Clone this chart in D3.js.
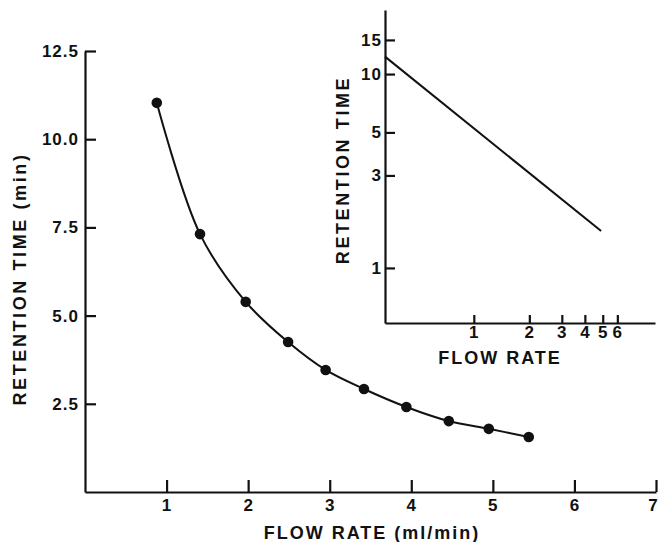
<!DOCTYPE html>
<html>
<head>
<meta charset="utf-8">
<script src="https://cdn.jsdelivr.net/npm/d3@7"></script>
<style>
  body { margin: 0; background: #fff; }
  svg { display: block; }
  .axis path, .axis line { stroke: #111; stroke-width: 2.2; }
  .axis text { font-family: 'Liberation Sans', Arial, sans-serif; font-weight: bold; font-size: 17px; fill: #111; letter-spacing: 1px; }
  .title { font-family: 'Liberation Sans', Arial, sans-serif; font-weight: bold; font-size: 18px; fill: #111; letter-spacing: 2px; }
</style>
</head>
<body>
<svg width="660" height="542"></svg>
<script>
// main plot: retention time vs flow rate
const flowRate = [0.88, 1.41, 1.97, 2.49, 2.95, 3.42, 3.94, 4.46, 4.95, 5.44];
const retentionTime = [11.03, 7.31, 5.39, 4.25, 3.46, 2.92, 2.41, 2.01, 1.79, 1.56];
const xTicks = [1, 2, 3, 4, 5, 6, 7];
const yTicks = [2.5, 5.0, 7.5, 10.0, 12.5];

// inset: log-log line
const insetFlow = [0.33, 4.9];
const insetTime = [12.3, 1.55];
const insetXTicks = [1, 2, 3, 4, 5, 6];
const insetYTicks = [1, 3, 5, 10, 15];

const svg = d3.select('svg');

const x = d3.scaleLinear().domain([0, 7]).range([85, 656]);
const y = d3.scaleLinear().domain([0, 12.5]).range([492, 51]);

const points = flowRate.map((f, i) => ({ f, t: retentionTime[i] }));

// x axis
const xAxisG = svg.append('g')
  .attr('class', 'axis')
  .attr('transform', `translate(0,${y(0)})`)
  .call(d3.axisBottom(x)
    .tickValues(xTicks)
    .tickFormat(d3.format('d'))
    .tickSizeInner(-12)
    .tickSizeOuter(0)
    .tickPadding(7));
// last label sits on the page edge
xAxisG.selectAll('.tick text').filter(d => d === 7).attr('dx', '-3');

// y axis
svg.append('g')
  .attr('class', 'axis')
  .attr('transform', `translate(${x(0)},0)`)
  .call(d3.axisLeft(y)
    .tickValues(yTicks)
    .tickFormat(d3.format('.1f'))
    .tickSizeInner(-11)
    .tickSizeOuter(0)
    .tickPadding(6));

svg.selectAll('.axis .domain').attr('fill', 'none');

const line = d3.line()
  .x(d => x(d.f))
  .y(d => y(d.t))
  .curve(d3.curveCatmullRom.alpha(0.5));

svg.append('path')
  .datum(points)
  .attr('d', line)
  .attr('fill', 'none')
  .attr('stroke', '#111')
  .attr('stroke-width', 2);

svg.selectAll('circle.pt').data(points)
  .enter().append('circle')
  .attr('class', 'pt')
  .attr('cx', d => x(d.f))
  .attr('cy', d => y(d.t))
  .attr('r', 5.3)
  .attr('fill', '#111');

svg.append('text')
  .attr('class', 'title')
  .attr('x', 372)
  .attr('y', 533)
  .attr('text-anchor', 'middle')
  .attr('dominant-baseline', 'central')
  .text('FLOW RATE (ml/min)');

svg.append('text')
  .attr('class', 'title')
  .attr('transform', 'translate(20,279) rotate(-90)')
  .attr('text-anchor', 'middle')
  .attr('dominant-baseline', 'central')
  .style('letter-spacing', '2.6px')
  .text('RETENTION TIME (min)');

// inset
const ix = d3.scaleLog().domain([0.33, 9.6]).range([385, 655]);
const iy = d3.scaleLog().domain([0.52, 21.4]).range([323, 10]);

svg.append('g')
  .attr('class', 'axis')
  .attr('transform', `translate(0,${iy.range()[0]})`)
  .call(d3.axisBottom(ix)
    .tickValues(insetXTicks)
    .tickFormat(d => d)
    .tickSizeInner(-8)
    .tickSizeOuter(0)
    .tickPadding(3));

svg.append('g')
  .attr('class', 'axis')
  .attr('transform', `translate(${ix.range()[0]},0)`)
  .call(d3.axisLeft(iy)
    .tickValues(insetYTicks)
    .tickFormat(d => d)
    .tickSizeInner(-10)
    .tickSizeOuter(0)
    .tickPadding(3));

svg.selectAll('.axis .domain').attr('fill', 'none');

const insetPts = insetFlow.map((f, i) => ({ f, t: insetTime[i] }));
svg.append('path')
  .datum(insetPts)
  .attr('d', d3.line().x(d => ix(d.f)).y(d => iy(d.t)))
  .attr('fill', 'none')
  .attr('stroke', '#111')
  .attr('stroke-width', 2);

svg.append('text')
  .attr('class', 'title')
  .attr('x', 500)
  .attr('y', 358)
  .attr('text-anchor', 'middle')
  .attr('dominant-baseline', 'central')
  .text('FLOW RATE');

svg.append('text')
  .attr('class', 'title')
  .attr('transform', 'translate(343,170) rotate(-90)')
  .attr('text-anchor', 'middle')
  .attr('dominant-baseline', 'central')
  .style('letter-spacing', '2.6px')
  .text('RETENTION TIME');
</script>
</body>
</html>
